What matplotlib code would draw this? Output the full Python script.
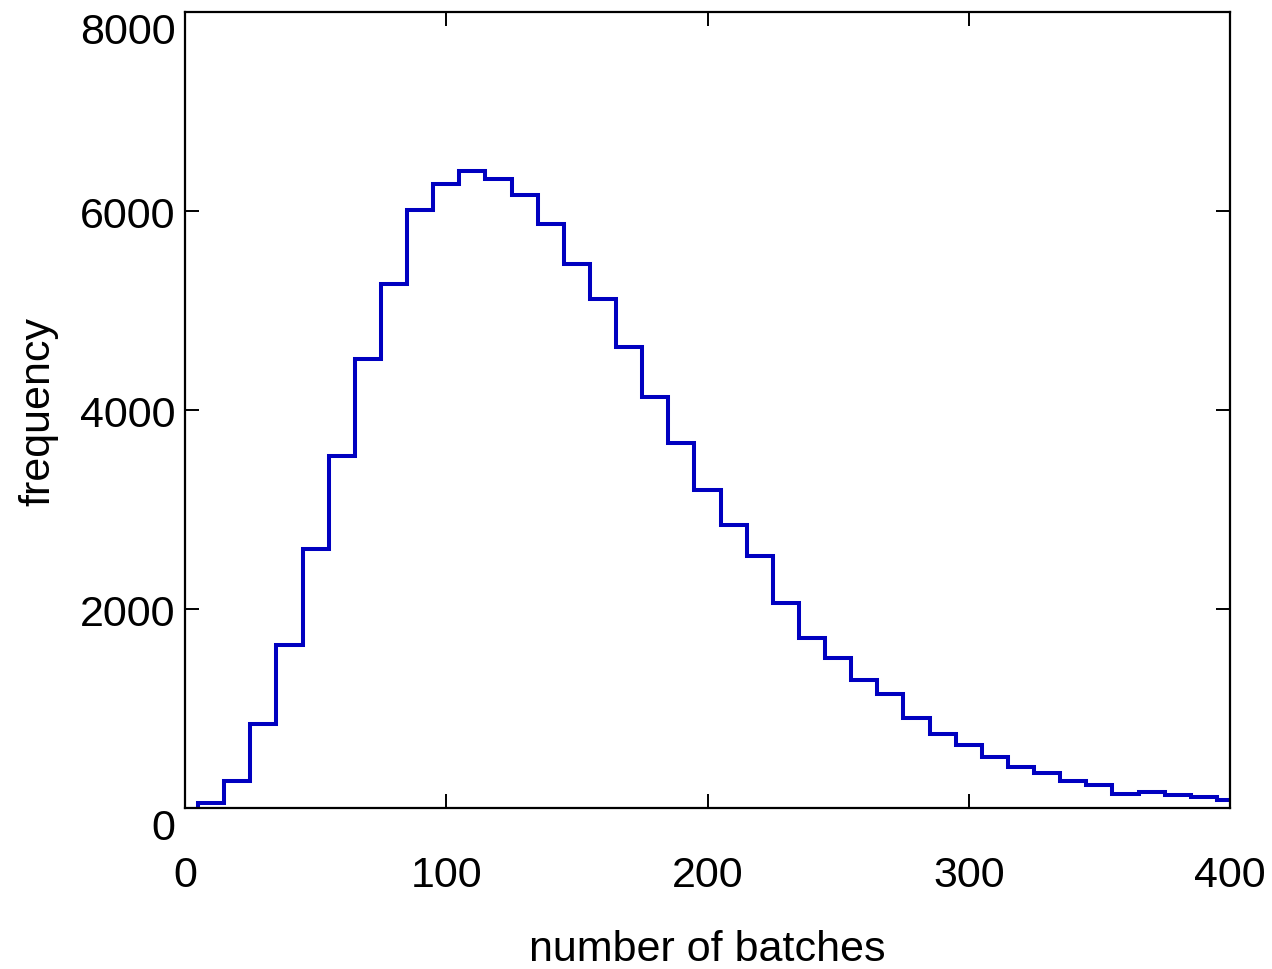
import numpy as np
import matplotlib
matplotlib.use("Agg")
import matplotlib.pyplot as plt

# bin centres (number of batches) and counts
bin_centers = [10, 20, 30, 40, 50, 60, 70, 80, 90, 100,
               110, 120, 130, 140, 150, 160, 170, 180, 190, 200,
               210, 220, 230, 240, 250, 260, 270, 280, 290, 300,
               310, 320, 330, 340, 350, 360, 370, 380, 390, 400]
counts = [50, 275, 840, 1640, 2600, 3540, 4510, 5265, 6015, 6270,
          6400, 6325, 6165, 5865, 5465, 5120, 4630, 4135, 3665, 3200,
          2840, 2530, 2060, 1705, 1505, 1285, 1145, 905, 745, 635,
          515, 410, 350, 275, 230, 140, 158, 130, 112, 82]

x_ticks = [0, 100, 200, 300, 400]
y_ticks = [0, 2000, 4000, 6000, 8000]

plt.rcParams['font.family'] = ['Liberation Sans', 'DejaVu Sans']

centers = np.array(bin_centers)
edges = np.append(centers - 5, centers[-1] + 5)

fig = plt.figure(figsize=(12.72, 9.70), dpi=100)
ax = fig.add_axes([185 / 1272, 1 - 809 / 970, 1045 / 1272, 796 / 970])

ax.stairs(counts, edges, color='#0000c0', linewidth=2.9)

ax.set_xlim(0, 400)
ax.set_ylim(0, 8000)
ax.set_xticks(x_ticks)
ax.set_yticks(y_ticks)
ax.tick_params(direction='in', top=True, right=True, length=10, width=1.4,
               labelsize=31)
ax.tick_params(axis='x', pad=34)
ax.tick_params(axis='y', pad=7)
for s in ax.spines.values():
    s.set_linewidth(1.6)

ylabels = ax.get_yticklabels()
ylabels[0].set_va('top')
ylabels[-1].set_va('top')

ax.set_xlabel('number of batches', fontsize=31, va='center')
ax.set_ylabel('frequency', fontsize=31, va='center')
ax.xaxis.set_label_coords(0.5, -0.177)
ax.yaxis.set_label_coords(-0.1407, 0.5)

fig.savefig('out.png', dpi=100)
